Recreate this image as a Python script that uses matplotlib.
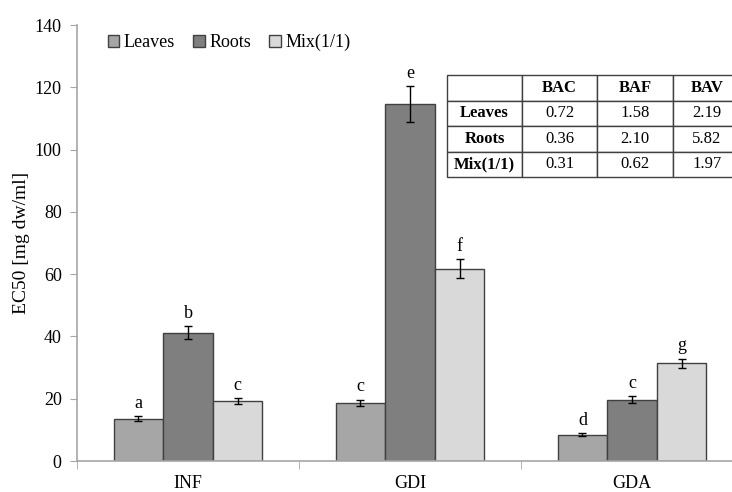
import matplotlib
matplotlib.use("Agg")
import matplotlib.pyplot as plt
import numpy as np

plt.rcParams['font.family'] = ['Liberation Serif', 'DejaVu Serif']

# data
categories = ['INF', 'GDI', 'GDA']
series = ['Leaves', 'Roots', 'Mix(1/1)']
leaves = [13.6, 18.7, 8.4]
roots = [41.2, 114.6, 19.7]
mix = [19.2, 61.8, 31.4]
leaves_err = [0.7, 1.0, 0.5]
roots_err = [2.1, 5.8, 1.1]
mix_err = [1.0, 3.0, 1.5]
leaves_lbl = ['a', 'c', 'd']
roots_lbl = ['b', 'e', 'c']
mix_lbl = ['c', 'f', 'g']

tab_cols = ['', 'BAC', 'BAF', 'BAV']
tab_rows = ['Leaves', 'Roots', 'Mix(1/1)']
tab_vals = [['0.72', '1.58', '2.19'],
            ['0.36', '2.10', '5.82'],
            ['0.31', '0.62', '1.97']]

colors = ['#a6a6a6', '#7f7f7f', '#d9d9d9']
axis_col = '#a6a6a6'

fig = plt.figure(figsize=(7.32, 4.92), dpi=100)
W, H = 732, 492
ax = fig.add_axes([77 / W, 31 / H, 666 / W, 436 / H])

x = np.arange(len(categories))
bw = 0.223
vals = [leaves, roots, mix]
errs = [leaves_err, roots_err, mix_err]
lbls = [leaves_lbl, roots_lbl, mix_lbl]
for i in range(3):
    xs = x + (i - 1) * bw
    ax.bar(xs, vals[i], bw, color=colors[i], edgecolor='#404040', linewidth=1.0,
           label=series[i], zorder=2)
    ax.errorbar(xs, vals[i], yerr=errs[i], fmt='none', ecolor='black',
                elinewidth=1.0, capsize=3, capthick=1.0, zorder=3)
    for xx, v, e, t in zip(xs, vals[i], errs[i], lbls[i]):
        ax.annotate(t, (xx, v + e), xytext=(0, 3), textcoords='offset points',
                    ha='center', va='bottom', fontsize=13)

ax.set_xlim(-0.5, 2.5)
ax.set_ylim(0, 140)
ax.set_yticks(range(0, 141, 20))
ax.set_xticks(x)
ax.set_xticklabels(categories)
ax.set_xticks([-0.5, 0.5, 1.5, 2.5], minor=True)
ax.tick_params(axis='x', which='major', length=0, labelsize=13, pad=10)
ax.tick_params(axis='x', which='minor', length=6, color=axis_col, direction='out')
ax.tick_params(axis='y', length=5, color=axis_col, labelsize=13, pad=6)
for s in ['top', 'right']:
    ax.spines[s].set_visible(False)
for s in ['left', 'bottom']:
    ax.spines[s].set_color(axis_col)
    ax.spines[s].set_linewidth(1.2)
ax.set_ylabel('EC50 [mg dw/ml]', fontsize=14)
ax.yaxis.set_label_coords(-0.07, 0.5)

ax.legend(loc='upper left', bbox_to_anchor=(0.035, 0.996), ncol=3, frameon=False,
          fontsize=13, handlelength=0.65, handleheight=0.65, handletextpad=0.25,
          columnspacing=1.0, borderaxespad=0)

# inset table
x0, x1 = (447 - 77) / 666, (741 - 77) / 666
y0, y1 = (461 - 177) / 436, (461 - 75) / 436
cells = [tab_cols] + [[r] + v for r, v in zip(tab_rows, tab_vals)]
tb = ax.table(cellText=cells, cellLoc='center', bbox=[x0, y0, x1 - x0, y1 - y0],
              colWidths=[75, 75, 76, 68])
tb.auto_set_font_size(False)
for (r, c), cell in tb.get_celld().items():
    cell.set_edgecolor('#404040')
    cell.set_linewidth(1.0)
    cell.set_facecolor('white')
    cell.get_text().set_fontsize(12)
    if r == 0 or c == 0:
        cell.get_text().set_fontweight('bold')
tb.set_zorder(5)

fig.savefig('out.png', dpi=100)
